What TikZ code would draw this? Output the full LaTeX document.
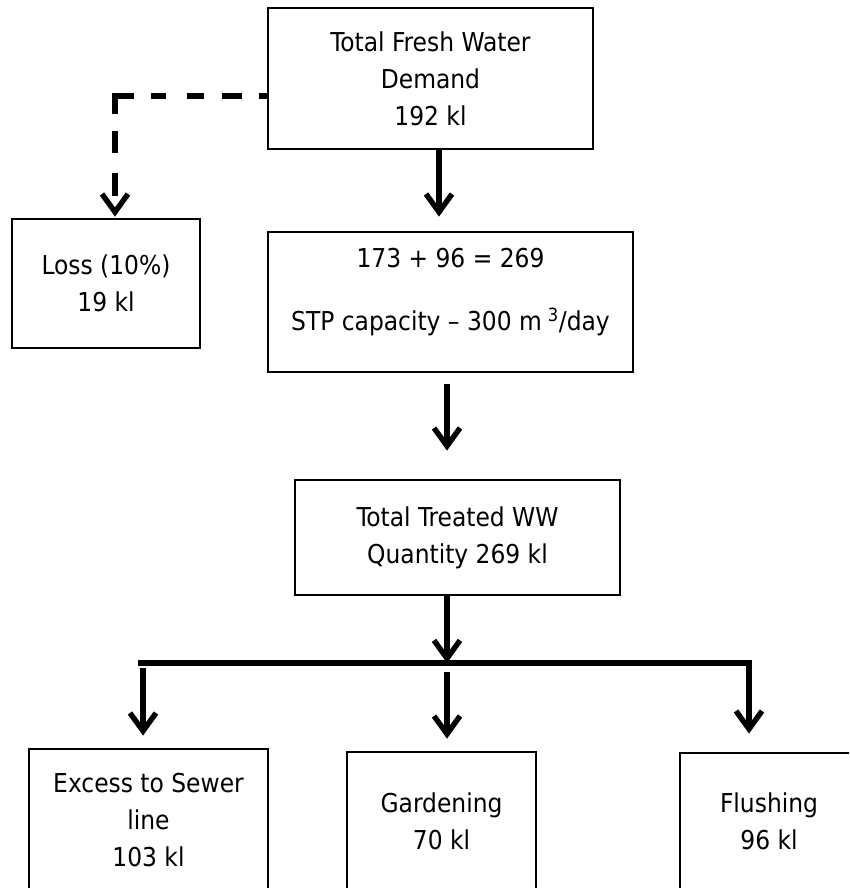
\documentclass[tikz,border=0pt]{standalone}
\usepackage{fontspec}
\setmainfont{DejaVu Sans Condensed}
\usetikzlibrary{arrows.meta}

\begin{document}
\begin{tikzpicture}[x=1pt,y=-1pt]
        \tikzstyle{every node}=[font=\fontsize{26}{37}\selectfont]
        \tikzstyle{box}=[draw, line width=2.8pt, align=center, inner sep=0pt]
        \tikzstyle{flow}=[line width=5.4pt, -{Straight Barb[length=18pt,width=26pt,line width=5.4pt]}]
        \useasboundingbox (0,0) rectangle (849,888);
        \clip (0,0) rectangle (849,888);

        % boxes
        \node[box, minimum width=325pt, minimum height=141pt] (demand) at (430.5,78.5) {Total Fresh Water\\Demand\\192 kl};
        \node[box, minimum width=188pt, minimum height=129pt] (loss) at (106,283.5) {Loss (10\%)\\19 kl};
        \node[box, minimum width=365pt, minimum height=140pt] (stp) at (450.5,302) {};
        \node[align=center] (stptext) at (450.5,292) {173 + 96 = 269\\[26pt]STP capacity -- 300 m\hspace{6pt}\textsuperscript{3}/day};
        \node[box, minimum width=325pt, minimum height=115pt] (treated) at (457.5,537.5) {Total Treated WW\\Quantity 269 kl};
        \node[box, minimum width=239pt, minimum height=142pt] (sewer) at (148.5,820) {Excess to Sewer\\line\\103 kl};
        \node[box, minimum width=189pt, minimum height=138pt] (garden) at (441.5,821) {Gardening\\70 kl};
        \node[box, minimum width=178pt, minimum height=137pt] (flush) at (769,821.5) {Flushing\\96 kl};

        % connectors
        \coordinate (a0) at (115,0);
        \coordinate (a1) at (439,0);
        \coordinate (a2) at (447,0);
        \coordinate (a3) at (143,0);
        \coordinate (d0) at (0,96);
        \coordinate (busL) at (138,663);
        \coordinate (busR) at (749,663);

        \draw[flow, shorten >=1pt, dash pattern=on 8pt off 17pt on 20pt off 18pt on 17pt off 21pt on 15pt off 17pt on 37pt off 17pt on 22pt off 20pt on 23pt off 60pt] (demand.west |- d0) -| (loss.north -| a0);
        \draw[flow, shorten >=14pt] (demand.south -| a1) -- (stp.north -| a1);
        \draw[flow, shorten <=11pt, shorten >=28pt] (stp.south -| a2) -- (treated.north -| a2);
        \draw[flow] (treated.south -| a2) -- (busL -| a2);
        \draw[flow, shorten >=18pt] (busL) -| (flush.north -| busR);
        \draw[flow, shorten <=5pt, shorten >=12pt] (busL -| a3) -- (sewer.north -| a3);
        \draw[flow, shorten <=9pt, shorten >=12pt] (busL -| a2) -- (garden.north -| a2);
\end{tikzpicture}
\end{document}
